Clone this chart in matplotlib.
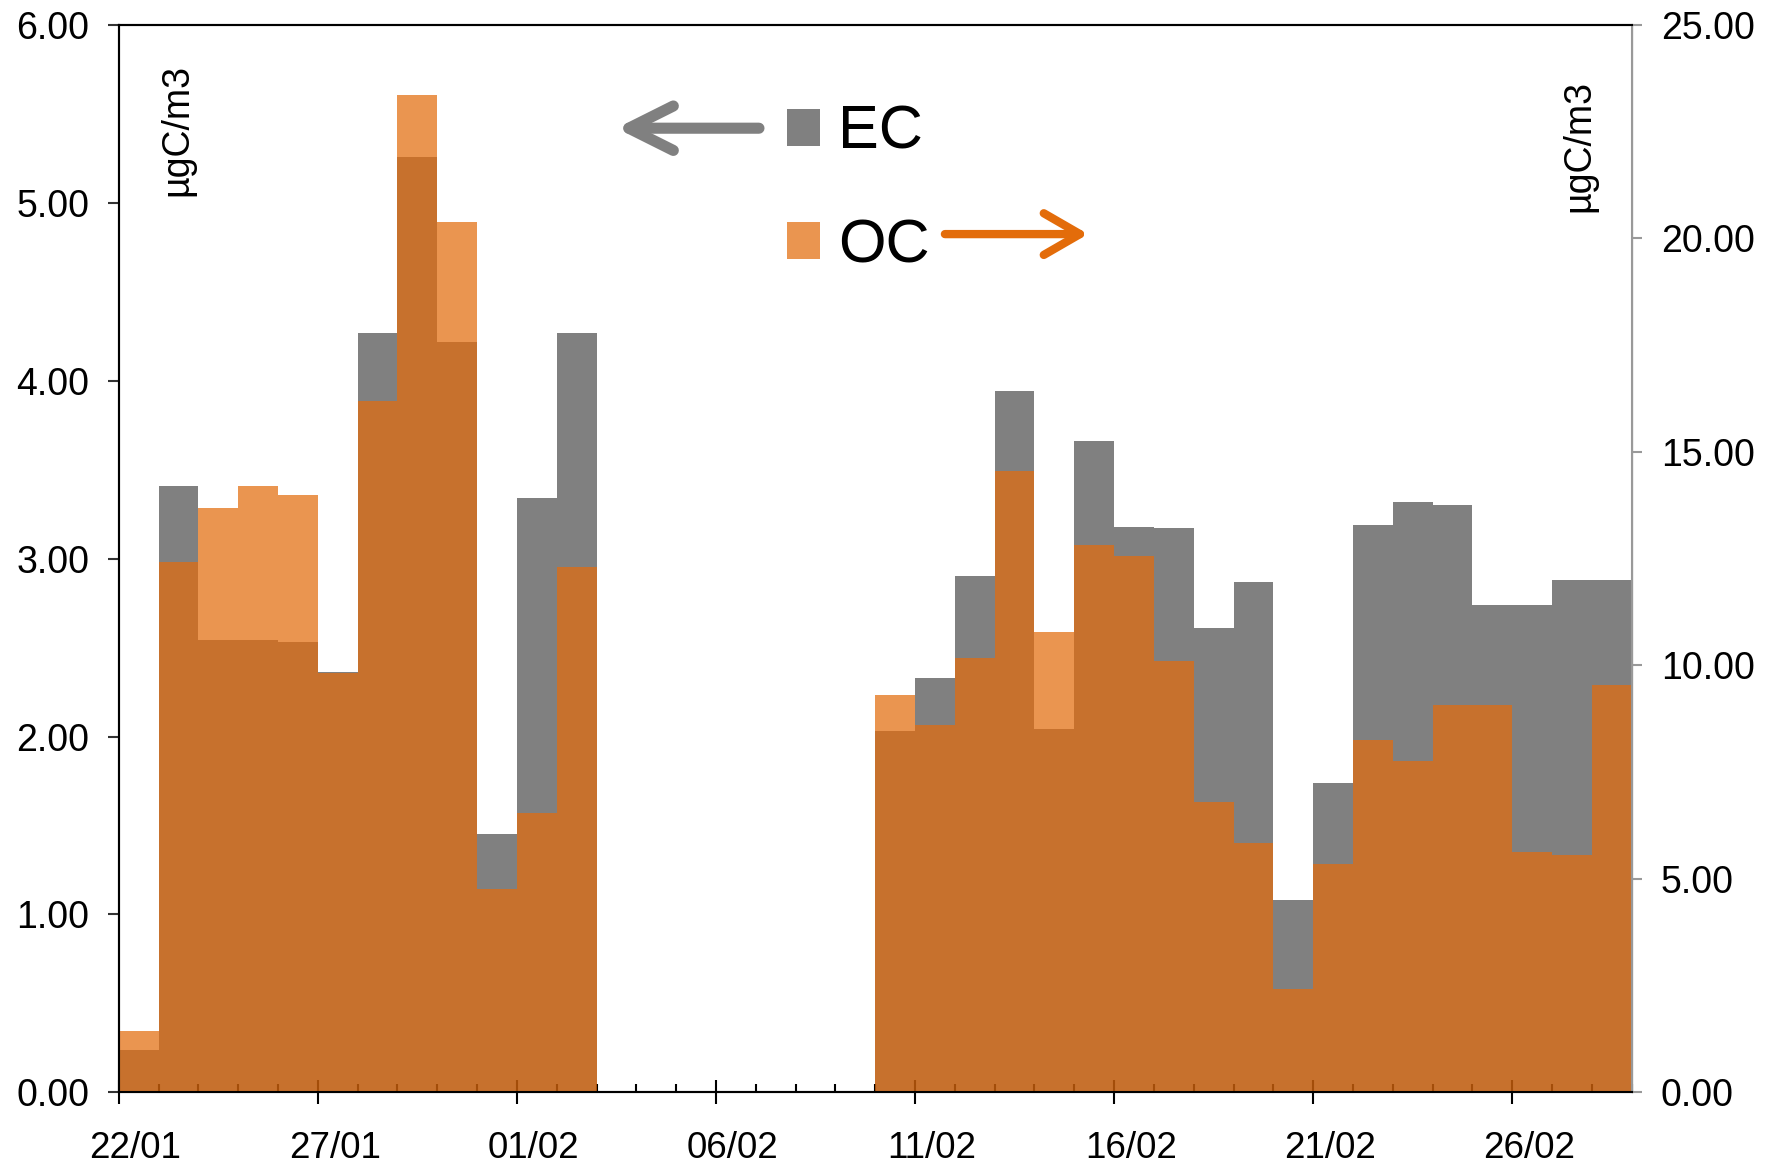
import numpy as np
import matplotlib
matplotlib.use("Agg")
import matplotlib.pyplot as plt
from matplotlib.ticker import MultipleLocator, FixedLocator, FuncFormatter

plt.rcParams['font.family'] = ['Liberation Sans', 'DejaVu Sans']

# ---- data (daily, starting 22/01) ----
nan = np.nan
days = np.arange(38)  # 22/01 ... 28/02
ec = [0.24, 3.41, 2.54, 2.54, 2.53, 2.36, 4.27, 5.26, 4.22, 1.45, 3.34, 4.27,
      nan, nan, nan, nan, nan, nan, nan,
      2.03, 2.33, 2.90, 3.94, 2.04, 3.66, 3.18, 3.17, 2.61, 2.87, 1.08, 1.74,
      3.19, 3.32, 3.30, 2.74, 2.74, 2.88, 2.88]
oc = [1.43, 12.42, 13.69, 14.19, 13.98, 9.83, 16.18, 23.36, 20.39, 4.77, 6.54, 12.31,
      nan, nan, nan, nan, nan, nan, nan,
      9.30, 8.61, 10.17, 14.54, 10.78, 12.82, 12.55, 10.09, 6.81, 5.85, 2.41, 5.35,
      8.26, 7.76, 9.06, 9.08, 5.64, 5.56, 9.53]
date_labels = ['22/01', '27/01', '01/02', '06/02', '11/02', '16/02', '21/02', '26/02']
left_ticks = [0, 1, 2, 3, 4, 5, 6]
right_ticks = [0, 5, 10, 15, 20, 25]
unit = 'µgC/m3'

gray = '#808080'
orange = (0.89, 0.424, 0.05)
oc_alpha = 0.72

fig = plt.figure(figsize=(17.73, 11.68), dpi=100)
ax = fig.add_axes([0.067, 0.0648, 0.8533, 0.9139])
ax2 = ax.twinx()

ax.bar(days, ec, width=1.0, align='edge', color=gray, linewidth=0, label='EC')
ax2.bar(days, oc, width=1.0, align='edge', color=orange, alpha=oc_alpha, linewidth=0, label='OC')

ax.set_xlim(0, 38)
ax.set_ylim(0, 6)
ax2.set_ylim(0, 25)

fs = 27
ax.yaxis.set_major_locator(FixedLocator(left_ticks))
ax.yaxis.set_major_formatter(FuncFormatter(lambda v, p: f'{v:.2f}'))
ax2.yaxis.set_major_locator(FixedLocator(right_ticks))
ax2.yaxis.set_major_formatter(FuncFormatter(lambda v, p: f'{v:.2f}'))
ax.tick_params(axis='y', labelsize=fs, length=8, width=1.5, direction='out', pad=13, color='#333333')
ax2.tick_params(axis='y', labelsize=fs, length=7, width=1.5, direction='out', pad=14, color='#999999')

# x axis: major ticks every 5 days (cross), minor daily (inside)
ax.xaxis.set_major_locator(MultipleLocator(5))
ax.xaxis.set_minor_locator(MultipleLocator(1))
ax.set_xticklabels([])
ax.tick_params(axis='x', which='major', direction='inout', length=17, width=1.5, labelbottom=False)
ax.tick_params(axis='x', which='minor', direction='in', length=6, width=1.5)
for i, lab in enumerate(date_labels):
    ax.text(i * 5 + 0.42, -0.22, lab, ha='center', va='top', fontsize=26.5)

for s in ['left', 'top', 'bottom']:
    ax.spines[s].set_linewidth(1.5)
    ax2.spines[s].set_linewidth(1.5)
ax.spines['left'].set_color('#222222')
ax2.spines['right'].set_color('#999999')
ax2.spines['right'].set_linewidth(1.5)

# unit labels
ax.text(1.48, 5.78, unit, rotation=90, ha='center', va='top', fontsize=27)
ax.text(36.68, 5.69, unit, rotation=90, ha='center', va='top', fontsize=27)

# legend
h1, l1 = ax.get_legend_handles_labels()
h2, l2 = ax2.get_legend_handles_labels()
leg = ax2.legend(h1 + h2, l1 + l2, loc='upper left', bbox_to_anchor=(0.4417, 0.925),
                 frameon=False, fontsize=44, handlelength=0.54, handleheight=0.54,
                 handletextpad=0.3, labelspacing=0.92, borderpad=0, borderaxespad=0)

# arrows
ax2.annotate('', xy=(12.5, 22.58), xytext=(16.08, 22.58),
             arrowprops=dict(arrowstyle='->,head_length=3.2,head_width=1.6', color=gray, lw=8,
                             capstyle='round', joinstyle='round', shrinkA=0, shrinkB=0))
ax2.annotate('', xy=(24.35, 20.10), xytext=(20.75, 20.10),
             arrowprops=dict(arrowstyle='->,head_length=2.6,head_width=1.5', color='#E36C0A', lw=6,
                             capstyle='round', joinstyle='round', shrinkA=0, shrinkB=0))

fig.savefig('out.png', dpi=100)
